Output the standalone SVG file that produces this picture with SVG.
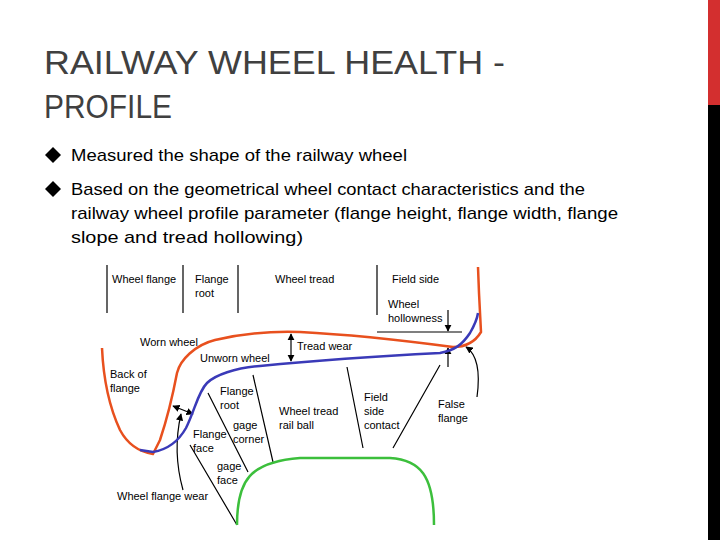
<svg xmlns="http://www.w3.org/2000/svg" width="720" height="540" viewBox="0 0 720 540">
<defs>
<marker id="ah" viewBox="0 0 10 10" refX="9" refY="5" markerWidth="6" markerHeight="6" orient="auto-start-reverse"><path d="M0,0 L10,5 L0,10 z" fill="#000"/></marker>
<style>
.t{font-family:"Liberation Sans",Arial,sans-serif;fill:#404040}
.b{font-family:"Liberation Sans",Arial,sans-serif;font-size:17px;fill:#000}
.s{font-family:"Liberation Sans",Arial,sans-serif;font-size:11px;fill:#000}
.l{stroke:#000;stroke-width:1.2;fill:none}
</style>
</defs>
<rect width="720" height="540" fill="#fff"/>
<rect x="708" y="0" width="12" height="105" fill="#d32f2f"/>
<rect x="708" y="105" width="12" height="435" fill="#000"/>
<text class="t" x="44" y="74" font-size="34" textLength="461" lengthAdjust="spacingAndGlyphs">RAILWAY WHEEL HEALTH -</text>
<text class="t" x="44" y="118" font-size="34" textLength="128" lengthAdjust="spacingAndGlyphs">PROFILE</text>
<g id="bullets">
<path d="M53,147 L61,155 L53,163 L45,155 z" fill="#000"/>
<text class="b" x="71" y="161" textLength="336" lengthAdjust="spacingAndGlyphs">Measured the shape of the railway wheel</text>
<path d="M53,181 L61,189 L53,197 L45,189 z" fill="#000"/>
<text class="b" x="71" y="195" textLength="514" lengthAdjust="spacingAndGlyphs">Based on the geometrical wheel contact characteristics and the</text>
<text class="b" x="71" y="219" textLength="547" lengthAdjust="spacingAndGlyphs">railway wheel profile parameter (flange height, flange width, flange</text>
<text class="b" x="71" y="243" textLength="232" lengthAdjust="spacingAndGlyphs">slope and tread hollowing)</text>
</g>
<g id="connectors">
<path class="l" d="M107,265V313M183,265V313M238,265V313M377,265V315M377,332H462"/>
<line class="l" x1="448" y1="310" x2="448" y2="331" marker-end="url(#ah)"/>
<line class="l" x1="448" y1="367" x2="448" y2="348" marker-end="url(#ah)"/>
<line class="l" x1="291" y1="334" x2="291" y2="361" marker-start="url(#ah)" marker-end="url(#ah)"/>
<line class="l" x1="173" y1="406" x2="193" y2="414" marker-start="url(#ah)" marker-end="url(#ah)"/>
<path class="l" d="M183,490 C176,465 175,440 181,414" marker-end="url(#ah)"/>
<path class="l" d="M477,397 C480,375 478,355 466,347" marker-end="url(#ah)"/>
<path class="l" d="M208,393L248,472M190,445L237,525M253,375L273,462M347,367L363,448M440,365L393,448"/>
</g>
<g id="rail"><path d="M237,525 C237,480 250,462 300,458 L390,458 C420,460 434,475 434,525" fill="none" stroke="#3cbf3c" stroke-width="2.5"/></g>
<g id="worn"><path d="M102,348 C103,370 106,400 120,430 C128,445 140,452 153,454 L160,440 C165,425 170,410 177,373 C180,360 195,345 215,340 C240,334 270,331 300,332 C340,334 400,340 453,347 C465,347 475,342 481,332 L479,293 L478,267" fill="none" stroke="#e8501e" stroke-width="2.5"/></g>
<g id="unworn"><path d="M140,450 L153,452 C165,450 177,444 186,428 C195,410 198,392 207,383 C215,375 235,368 260,366 C300,362 380,356 440,353 C455,350 462,345 470,333 C474,326 477,320 478,313" fill="none" stroke="#3a3ab8" stroke-width="2.5"/></g>
<g id="labels">
<text class="s" x="112" y="283">Wheel flange</text>
<text class="s" x="195" y="283">Flange</text><text class="s" x="195" y="297">root</text>
<text class="s" x="275" y="283">Wheel tread</text>
<text class="s" x="392" y="283">Field side</text>
<text class="s" x="388" y="308">Wheel</text><text class="s" x="388" y="322">hollowness</text>
<text class="s" x="140" y="346">Worn wheel</text>
<text class="s" x="297" y="350">Tread wear</text>
<text class="s" x="200" y="362">Unworn wheel</text>
<text class="s" x="110" y="378">Back of</text><text class="s" x="110" y="392">flange</text>
<text class="s" x="220" y="395">Flange</text><text class="s" x="220" y="409">root</text>
<text class="s" x="233" y="429">gage</text><text class="s" x="233" y="443">corner</text>
<text class="s" x="193" y="438">Flange</text><text class="s" x="193" y="452">face</text>
<text class="s" x="217" y="470">gage</text><text class="s" x="217" y="484">face</text>
<text class="s" x="279" y="415">Wheel tread</text><text class="s" x="279" y="429">rail ball</text>
<text class="s" x="364" y="401">Field</text><text class="s" x="364" y="415">side</text><text class="s" x="364" y="429">contact</text>
<text class="s" x="438" y="408">False</text><text class="s" x="438" y="422">flange</text>
<text class="s" x="117" y="500">Wheel flange wear</text>
</g>
</svg>
